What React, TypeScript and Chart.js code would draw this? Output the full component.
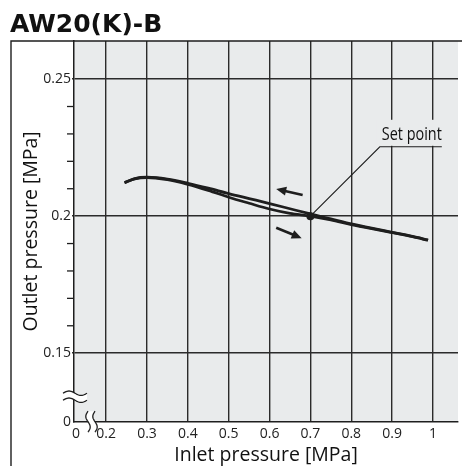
import { useEffect, useRef } from 'react';
import { Chart, registerables } from 'chart.js';

Chart.register(...registerables);

const chartTitle = 'AW20(K)-B';
const xAxisTitle = 'Inlet pressure [MPa]';
const yAxisTitle = 'Outlet pressure [MPa]';
const setPointLabel = 'Set point';

// broken axes: the "0" tick sits just right of the break
const xTickValues = [0.1265, 0.2, 0.3, 0.4, 0.5, 0.6, 0.7, 0.8, 0.9, 1.0];
const xTickLabels = ['0', '0.2', '0.3', '0.4', '0.5', '0.6', '0.7', '0.8', '0.9', '1'];
const yTickValues = [0.125, 0.15, 0.2, 0.25];
const yTickLabels = ['0', '0.15', '0.2', '0.25'];
const yMinorTicks = [0.16, 0.17, 0.18, 0.19, 0.21, 0.22, 0.23, 0.24];

// rising inlet pressure (lower branch)
const inletRising = [0.245, 0.27, 0.3, 0.35, 0.4, 0.45, 0.5, 0.55, 0.6, 0.65, 0.7, 0.75, 0.8, 0.85, 0.9, 0.95, 0.988];
const outletRising = [0.2122, 0.2136, 0.2141, 0.2133, 0.2116, 0.2094, 0.2069, 0.2047, 0.2026, 0.201, 0.2, 0.1986, 0.1969, 0.1954, 0.194, 0.1925, 0.1912];
// falling inlet pressure (upper branch)
const inletFalling = [0.245, 0.27, 0.3, 0.35, 0.4, 0.45, 0.5, 0.55, 0.6, 0.65, 0.7, 0.75, 0.8, 0.85, 0.9, 0.95, 0.988];
const outletFalling = [0.2122, 0.2137, 0.2142, 0.2135, 0.212, 0.2102, 0.2082, 0.2064, 0.2046, 0.2027, 0.2008, 0.199, 0.1972, 0.1956, 0.1941, 0.1926, 0.1913];

const setPointX = [0.7];
const setPointY = [0.2];

const INK = '#1e1e1e';
const PLOT_BG = '#e9ebec';

function drawArrow(ctx: CanvasRenderingContext2D, x1: number, y1: number, x2: number, y2: number) {
  const ang = Math.atan2(y2 - y1, x2 - x1);
  const hl = 10;
  const hw = 4.5;
  ctx.beginPath();
  ctx.moveTo(x1, y1);
  ctx.lineTo(x2 - Math.cos(ang) * (hl - 1), y2 - Math.sin(ang) * (hl - 1));
  ctx.lineWidth = 2.6;
  ctx.strokeStyle = INK;
  ctx.stroke();
  ctx.beginPath();
  ctx.moveTo(x2, y2);
  ctx.lineTo(x2 - Math.cos(ang) * hl - Math.sin(ang) * hw, y2 - Math.sin(ang) * hl + Math.cos(ang) * hw);
  ctx.lineTo(x2 - Math.cos(ang) * hl + Math.sin(ang) * hw, y2 - Math.sin(ang) * hl - Math.cos(ang) * hw);
  ctx.closePath();
  ctx.fillStyle = INK;
  ctx.fill();
}

const decorPlugin = {
  id: 'decor',
  beforeDraw(chart: any) {
    const { ctx, chartArea: a } = chart;
    ctx.save();
    ctx.fillStyle = PLOT_BG;
    ctx.fillRect(a.left, a.top, a.right - a.left, a.bottom - a.top);
    ctx.restore();
  },
  afterDraw(chart: any) {
    const { ctx, chartArea: a, scales } = chart;
    const xs = scales.x;
    const ys = scales.y;
    ctx.save();

    // outer frame
    ctx.strokeStyle = INK;
    ctx.lineWidth = 1.4;
    ctx.beginPath();
    ctx.moveTo(11, chart.height + 2);
    ctx.lineTo(11, a.top);
    ctx.lineTo(chart.width + 2, a.top);
    ctx.stroke();

    // title
    ctx.fillStyle = '#111';
    ctx.font = 'bold 25px "DejaVu Sans"';
    ctx.textAlign = 'left';
    ctx.textBaseline = 'alphabetic';
    ctx.fillText(chartTitle, 10, 32);

    // minor ticks on y axis
    ctx.strokeStyle = INK;
    ctx.lineWidth = 1.3;
    for (const v of yMinorTicks) {
      const y = ys.getPixelForValue(v);
      ctx.beginPath();
      ctx.moveTo(a.left - 7, y);
      ctx.lineTo(a.left, y);
      ctx.stroke();
    }

    // set point label
    const spx = xs.getPixelForValue(setPointX[0]);
    const spy = ys.getPixelForValue(setPointY[0]);
    const lx = xs.getPixelForValue(0.8699);
    const ly = ys.getPixelForValue(0.2253);
    ctx.fillStyle = PLOT_BG;
    ctx.fillRect(lx - 3, ly - 27, 70, 26);
    ctx.strokeStyle = INK;
    ctx.lineWidth = 1.1;
    ctx.beginPath();
    ctx.moveTo(spx, spy);
    ctx.lineTo(lx, ly);
    ctx.lineTo(lx + 62, ly);
    ctx.stroke();
    ctx.fillStyle = '#111';
    ctx.font = '18px "Open Sans"';
    ctx.textBaseline = 'alphabetic';
    ctx.fillText(setPointLabel, lx + 2, ly - 7, 60);

    // direction arrows
    drawArrow(ctx, xs.getPixelForValue(0.681), ys.getPixelForValue(0.20772), xs.getPixelForValue(0.6163), ys.getPixelForValue(0.2099));
    drawArrow(ctx, xs.getPixelForValue(0.6163), ys.getPixelForValue(0.19579), xs.getPixelForValue(0.6786), ys.getPixelForValue(0.19192));

    // y axis break
    const ycy = a.bottom - 25;
    const wave = (y0: number, x0: number, x1: number, amp: number) => {
      const pts: [number, number][] = [];
      for (let i = 0; i <= 24; i++) {
        const t = i / 24;
        pts.push([x0 + (x1 - x0) * t, y0 - amp * Math.sin(t * Math.PI * 2)]);
      }
      return pts;
    };
    const top = wave(ycy - 3.5, a.left - 11, a.left + 13, 2.2);
    const bot = wave(ycy + 3.5, a.left - 11, a.left + 13, 2.2);
    ctx.fillStyle = '#ffffff';
    ctx.beginPath();
    top.forEach(([x, y], i) => (i ? ctx.lineTo(x, y) : ctx.moveTo(x, y)));
    bot.slice().reverse().forEach(([x, y]) => ctx.lineTo(x, y));
    ctx.closePath();
    ctx.fill();
    ctx.strokeStyle = INK;
    ctx.lineWidth = 1.3;
    for (const w of [top, bot]) {
      ctx.beginPath();
      w.forEach(([x, y], i) => (i ? ctx.lineTo(x, y) : ctx.moveTo(x, y)));
      ctx.stroke();
    }

    // x axis break
    const xcx = a.left + 17.5;
    const vwave = (x0: number, y0: number, y1: number, amp: number) => {
      const pts: [number, number][] = [];
      for (let i = 0; i <= 24; i++) {
        const t = i / 24;
        pts.push([x0 - amp * Math.sin(t * Math.PI * 2), y0 + (y1 - y0) * t]);
      }
      return pts;
    };
    const l = vwave(xcx - 3.5, a.bottom - 10.5, a.bottom + 10.5, 2.2);
    const r = vwave(xcx + 3.5, a.bottom - 10.5, a.bottom + 10.5, 2.2);
    ctx.fillStyle = '#ffffff';
    ctx.beginPath();
    l.forEach(([x, y], i) => (i ? ctx.lineTo(x, y) : ctx.moveTo(x, y)));
    r.slice().reverse().forEach(([x, y]) => ctx.lineTo(x, y));
    ctx.closePath();
    ctx.fill();
    for (const w of [l, r]) {
      ctx.beginPath();
      w.forEach(([x, y], i) => (i ? ctx.lineTo(x, y) : ctx.moveTo(x, y)));
      ctx.stroke();
    }

    ctx.restore();
  },
};

export default function App() {
  const ref = useRef<HTMLCanvasElement | null>(null);

  useEffect(() => {
    if (!ref.current) return;
    const tickFont = { family: '"Open Sans"', size: 14 };
    const titleFont = { family: '"Open Sans"', size: 19.5, lineHeight: 1.1 };
    const chart = new Chart(ref.current, {
      type: 'line',
      data: {
        datasets: [
          {
            data: inletRising.map((x, i) => ({ x, y: outletRising[i] })),
            borderColor: INK,
            borderWidth: 2.8,
            pointRadius: 0,
            cubicInterpolationMode: 'monotone',
            fill: false,
          },
          {
            data: inletFalling.map((x, i) => ({ x, y: outletFalling[i] })),
            borderColor: INK,
            borderWidth: 2.8,
            pointRadius: 0,
            cubicInterpolationMode: 'monotone',
            fill: false,
          },
          {
            data: setPointX.map((x, i) => ({ x, y: setPointY[i] })),
            showLine: false,
            pointRadius: 4,
            pointBackgroundColor: INK,
            pointBorderWidth: 0,
          },
        ],
      } as any,
      options: {
        animation: false,
        responsive: false,
        layout: { padding: { left: 10, top: 41, right: 0, bottom: 0 } },
        plugins: { legend: { display: false }, tooltip: { enabled: false }, title: { display: false } },
        scales: {
          x: {
            type: 'linear',
            min: 0.1213,
            max: 1.0613,
            afterBuildTicks: (s: any) => {
              s.ticks = xTickValues.map((v) => ({ value: v }));
            },
            afterFit: (s: any) => {
              s.height = 44.3;
            },
            ticks: {
              autoSkip: false,
              maxRotation: 0,
              padding: 4,
              font: tickFont,
              color: '#222',
              callback: (_v: any, i: number) => xTickLabels[i],
            },
            grid: {
              color: (c: any) => (c.tick && c.tick.value < 0.15 ? 'rgba(0,0,0,0)' : '#2b2b2b'),
              lineWidth: 1.4,
              drawTicks: false,
            },
            border: { display: true, color: INK, width: 1.5 },
            title: { display: true, text: xAxisTitle, font: titleFont, color: '#111', padding: { top: 0, bottom: 0 } },
          },
          y: {
            type: 'linear',
            min: 0.125,
            max: 0.2639,
            afterBuildTicks: (s: any) => {
              s.ticks = yTickValues.map((v) => ({ value: v }));
            },
            afterFit: (s: any) => {
              s.width = 64;
            },
            ticks: {
              autoSkip: false,
              padding: 1,
              font: tickFont,
              color: '#222',
              callback: (_v: any, i: number) => yTickLabels[i],
            },
            grid: {
              color: (c: any) => (c.tick && c.tick.value < 0.14 ? 'rgba(0,0,0,0)' : '#2b2b2b'),
              lineWidth: 1.4,
              tickLength: 2,
            },
            border: { display: true, color: INK, width: 1.5 },
            title: { display: true, text: yAxisTitle, font: titleFont, color: '#111', padding: { top: 10.3, bottom: 0 } },
          },
        },
      } as any,
      plugins: [decorPlugin],
    });
    return () => chart.destroy();
  }, []);

  return (
    <div style={{ position: 'absolute', left: 0, top: 0, width: 462, height: 466, overflow: 'hidden', background: '#fff' }}>
      <canvas ref={ref} width={462} height={466} />
    </div>
  );
}
